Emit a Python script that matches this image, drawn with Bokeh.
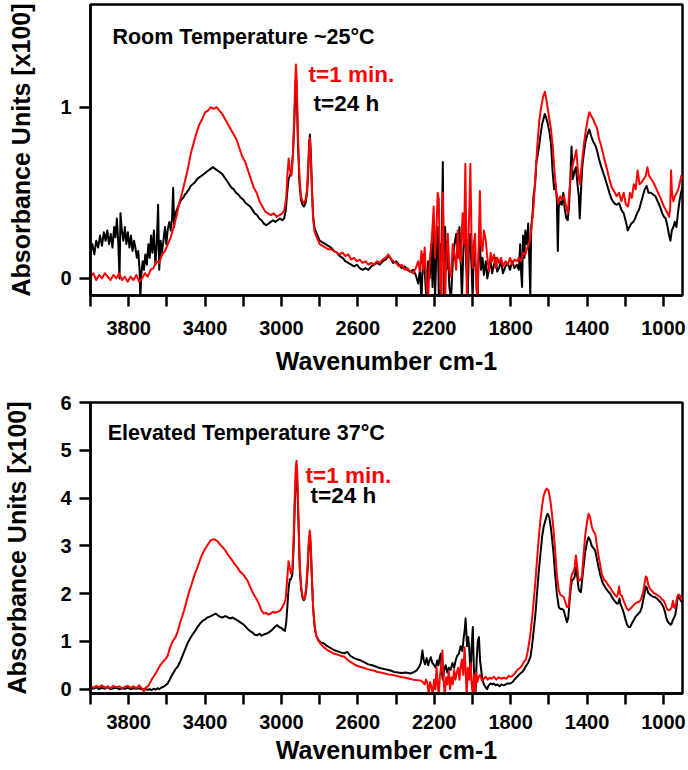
from bokeh.plotting import figure
from bokeh.layouts import column
from bokeh.models import Range1d, FixedTicker, Label
from bokeh.embed import file_html
from bokeh.resources import INLINE

# ---------------- data (wavenumber cm-1, absorbance x100) ----------------
X_MAJOR_TICKS = [3800, 3400, 3000, 2600, 2200, 1800, 1400, 1000]
X_MINOR_TICKS = [4000, 3600, 3200, 2800, 2400, 2000, 1600, 1200]
RT_Y_TICKS = [0, 1]
ET_Y_TICKS = [0, 1, 2, 3, 4, 5, 6]

X_LABEL = "Wavenumber cm-1"
Y_LABEL = "Absorbance Units [x100]"
RT_TITLE = "Room Temperature ~25°C"
ET_TITLE = "Elevated Temperature 37°C"
SERIES_NAMES = ["t=1 min.", "t=24 h"]

# Room temperature, t = 1 min (red)
RT_1MIN = [
    (4000, 0.01), (3985, 0.03), (3970, -0.01), (3955, 0.02), (3940, 0.0), (3925, 0.03), (3910, 0.01),
    (3895, -0.01), (3880, 0.02), (3865, 0.0), (3850, 0.03), (3835, -0.01), (3820, 0.01), (3805, -0.02),
    (3790, 0.01), (3775, -0.01), (3760, 0.02), (3745, -0.02), (3730, 0.0), (3715, 0.03), (3700, 0.01),
    (3685, 0.05), (3670, 0.06), (3655, 0.1), (3640, 0.09), (3625, 0.14), (3610, 0.16), (3595, 0.2),
    (3580, 0.24), (3565, 0.3), (3550, 0.36), (3535, 0.44), (3520, 0.5), (3505, 0.57), (3490, 0.64),
    (3475, 0.73), (3460, 0.79), (3445, 0.85), (3430, 0.9), (3415, 0.93), (3400, 0.97), (3385, 0.98),
    (3370, 1.0), (3355, 0.99), (3340, 1.0), (3325, 0.98), (3310, 0.96), (3295, 0.93), (3280, 0.9),
    (3265, 0.87), (3250, 0.84), (3235, 0.81), (3220, 0.76), (3205, 0.71), (3190, 0.68), (3175, 0.63),
    (3160, 0.58), (3145, 0.53), (3130, 0.5), (3115, 0.45), (3100, 0.42), (3085, 0.39), (3070, 0.38),
    (3055, 0.37), (3040, 0.38), (3025, 0.36), (3010, 0.37), (2995, 0.38), (2985, 0.4), (2975, 0.47),
    (2968, 0.62), (2962, 0.7), (2955, 0.63), (2948, 0.6), (2940, 0.72), (2933, 0.95), (2928, 1.15),
    (2924, 1.25), (2920, 1.15), (2914, 0.85), (2906, 0.6), (2898, 0.48), (2890, 0.45), (2882, 0.44),
    (2874, 0.46), (2866, 0.52), (2860, 0.65), (2855, 0.8), (2851, 0.82), (2846, 0.7), (2840, 0.5),
    (2834, 0.34), (2826, 0.27), (2815, 0.24), (2800, 0.2), (2785, 0.19), (2770, 0.18), (2755, 0.17),
    (2740, 0.17), (2725, 0.16), (2710, 0.15), (2695, 0.14), (2680, 0.15), (2665, 0.13), (2650, 0.14),
    (2635, 0.11), (2620, 0.12), (2605, 0.1), (2590, 0.11), (2575, 0.09), (2560, 0.1), (2545, 0.08),
    (2530, 0.09), (2515, 0.08), (2500, 0.1), (2485, 0.09), (2470, 0.11), (2455, 0.12), (2440, 0.14),
    (2430, 0.12), (2415, 0.1), (2400, 0.09), (2385, 0.07), (2370, 0.08), (2355, 0.05), (2340, 0.06),
    (2325, 0.04), (2310, 0.03), (2297, 0.06), (2284, 0.1), (2275, 0.04), (2267, 0.16), (2258, 0.05),
    (2250, 0.18), (2241, -0.03), (2232, -0.12), (2224, 0.1), (2215, 0.2), (2209, 0.3), (2203, 0.42),
    (2196, 0.12), (2189, 0.26), (2182, 0.5), (2176, 0.46), (2169, -0.05), (2163, -0.12), (2158, 0.3),
    (2155, 0.5), (2149, 0.1), (2143, -0.12), (2136, 0.15), (2129, 0.26), (2121, 0.05), (2112, 0.01),
    (2103, 0.2), (2094, 0.14), (2085, 0.05), (2077, 0.28), (2068, 0.12), (2060, 0.1), (2055, 0.3),
    (2051, 0.38), (2044, 0.2), (2037, 0.67), (2033, 0.3), (2029, -0.12), (2022, 0.2), (2015, 0.45),
    (2011, 0.67), (2005, 0.25), (1999, 0.06), (1992, 0.2), (1986, 0.26), (1980, -0.05), (1973, -0.12),
    (1967, 0.2), (1961, 0.51), (1955, 0.2), (1947, 0.16), (1940, 0.28), (1930, 0.22), (1922, 0.12),
    (1913, 0.04), (1905, 0.15), (1897, 0.1), (1887, 0.14), (1878, 0.06), (1870, 0.12), (1861, 0.09),
    (1850, 0.12), (1840, 0.07), (1827, 0.1), (1815, 0.08), (1803, 0.12), (1792, 0.08), (1780, 0.11),
    (1768, 0.1), (1757, 0.12), (1745, 0.1), (1735, 0.15), (1723, 0.14), (1712, 0.18), (1700, 0.22),
    (1690, 0.3), (1680, 0.42), (1670, 0.6), (1660, 0.78), (1650, 0.92), (1640, 1.0), (1630, 1.06),
    (1621, 1.09), (1612, 1.04), (1600, 0.95), (1590, 0.88), (1580, 0.78), (1570, 0.62), (1560, 0.5),
    (1550, 0.44), (1540, 0.48), (1530, 0.46), (1520, 0.48), (1510, 0.42), (1501, 0.38), (1493, 0.5),
    (1485, 0.6), (1476, 0.66), (1466, 0.7), (1456, 0.75), (1447, 0.62), (1438, 0.55), (1428, 0.66),
    (1418, 0.77), (1408, 0.85), (1398, 0.92), (1388, 0.97), (1378, 0.95), (1368, 0.93), (1358, 0.9),
    (1348, 0.88), (1338, 0.82), (1325, 0.77), (1310, 0.7), (1296, 0.64), (1283, 0.58), (1270, 0.53),
    (1258, 0.51), (1245, 0.48), (1232, 0.5), (1220, 0.45), (1208, 0.5), (1196, 0.43), (1185, 0.42),
    (1175, 0.5), (1165, 0.47), (1155, 0.55), (1145, 0.52), (1135, 0.63), (1125, 0.55), (1115, 0.56),
    (1103, 0.58), (1092, 0.6), (1084, 0.65), (1075, 0.6), (1064, 0.58), (1052, 0.56), (1040, 0.53),
    (1028, 0.5), (1015, 0.47), (1005, 0.44), (997, 0.42), (988, 0.4), (978, 0.38), (970, 0.36),
    (964, 0.42), (960, 0.63), (955, 0.5), (948, 0.45), (940, 0.48), (930, 0.5), (922, 0.52),
    (914, 0.56), (906, 0.6), (900, 0.58),
]

# Room temperature, t = 24 h (black)
RT_24H = [
    (4000, 0.15), (3990, 0.2), (3980, 0.14), (3970, 0.22), (3960, 0.18), (3950, 0.25), (3940, 0.19),
    (3930, 0.27), (3921, 0.22), (3912, 0.28), (3903, 0.2), (3894, 0.26), (3885, 0.18), (3876, 0.3),
    (3869, 0.24), (3862, 0.35), (3855, 0.22), (3848, 0.0), (3843, 0.38), (3836, 0.28), (3828, 0.22),
    (3820, 0.3), (3812, 0.2), (3804, 0.27), (3796, 0.18), (3788, 0.25), (3780, 0.16), (3772, 0.22),
    (3765, 0.18), (3757, 0.12), (3750, 0.16), (3743, 0.05), (3739, -0.12), (3734, 0.02), (3727, 0.1),
    (3720, 0.05), (3713, 0.14), (3705, 0.08), (3697, 0.2), (3690, 0.12), (3683, 0.25), (3676, 0.15),
    (3668, 0.28), (3660, 0.08), (3653, 0.2), (3646, 0.43), (3640, 0.05), (3633, 0.22), (3626, 0.15),
    (3618, 0.22), (3610, 0.3), (3603, 0.2), (3595, 0.29), (3587, 0.33), (3580, 0.28), (3573, 0.35),
    (3567, 0.53), (3562, 0.3), (3555, 0.38), (3548, 0.4), (3541, 0.42), (3533, 0.44), (3525, 0.46),
    (3515, 0.47), (3505, 0.49), (3497, 0.5), (3485, 0.52), (3475, 0.54), (3465, 0.55), (3454, 0.56),
    (3442, 0.58), (3430, 0.59), (3418, 0.6), (3406, 0.61), (3395, 0.62), (3383, 0.63), (3371, 0.64),
    (3359, 0.65), (3347, 0.64), (3335, 0.63), (3322, 0.62), (3310, 0.61), (3298, 0.59), (3286, 0.57),
    (3274, 0.55), (3262, 0.53), (3250, 0.52), (3238, 0.5), (3226, 0.49), (3212, 0.47), (3200, 0.46),
    (3188, 0.44), (3176, 0.43), (3164, 0.42), (3152, 0.4), (3140, 0.38), (3128, 0.37), (3116, 0.35),
    (3104, 0.34), (3092, 0.32), (3080, 0.31), (3068, 0.32), (3056, 0.33), (3044, 0.34), (3032, 0.33),
    (3020, 0.34), (3008, 0.35), (2996, 0.34), (2986, 0.35), (2977, 0.4), (2970, 0.5), (2963, 0.58),
    (2956, 0.6), (2948, 0.62), (2940, 0.72), (2933, 0.9), (2928, 1.08), (2924, 1.17), (2920, 1.08),
    (2914, 0.8), (2906, 0.56), (2898, 0.46), (2890, 0.43), (2882, 0.42), (2874, 0.44), (2866, 0.5),
    (2860, 0.62), (2855, 0.78), (2851, 0.84), (2846, 0.72), (2840, 0.52), (2834, 0.36), (2826, 0.29),
    (2815, 0.26), (2800, 0.22), (2785, 0.21), (2770, 0.2), (2755, 0.19), (2740, 0.18), (2725, 0.16),
    (2710, 0.15), (2695, 0.13), (2680, 0.12), (2665, 0.1), (2650, 0.09), (2635, 0.08), (2620, 0.07),
    (2605, 0.08), (2590, 0.06), (2575, 0.05), (2560, 0.06), (2545, 0.05), (2530, 0.07), (2515, 0.08),
    (2500, 0.09), (2485, 0.08), (2470, 0.1), (2455, 0.11), (2440, 0.13), (2430, 0.12), (2415, 0.09),
    (2400, 0.1), (2385, 0.08), (2370, 0.06), (2355, 0.07), (2340, 0.05), (2325, 0.04), (2310, 0.05),
    (2297, 0.02), (2284, -0.03), (2275, 0.05), (2267, -0.12), (2258, 0.14), (2250, 0.04), (2241, -0.12),
    (2232, 0.1), (2224, 0.0), (2215, 0.2), (2209, -0.05), (2203, 0.35), (2196, -0.12), (2189, 0.15),
    (2182, 0.3), (2176, -0.12), (2169, 0.2), (2162, 0.1), (2155, 0.68), (2150, -0.12), (2143, 0.3),
    (2136, 0.05), (2129, 0.22), (2121, -0.05), (2112, -0.12), (2103, 0.1), (2094, 0.2), (2085, 0.26),
    (2077, 0.12), (2068, 0.3), (2060, 0.05), (2055, -0.12), (2048, 0.15), (2040, 0.38), (2033, 0.1),
    (2025, -0.12), (2018, 0.2), (2011, 0.26), (2004, 0.05), (1999, -0.12), (1992, 0.22), (1986, 0.1),
    (1980, 0.04), (1973, -0.12), (1967, 0.15), (1961, 0.22), (1955, 0.05), (1947, 0.12), (1940, 0.02),
    (1930, 0.1), (1922, 0.0), (1913, 0.06), (1905, 0.1), (1897, 0.03), (1887, 0.08), (1878, 0.12),
    (1870, 0.04), (1861, 0.06), (1850, 0.1), (1840, 0.03), (1827, 0.07), (1815, 0.09), (1803, 0.05),
    (1792, 0.1), (1780, 0.06), (1768, 0.08), (1757, 0.05), (1750, 0.2), (1745, 0.03), (1740, -0.05),
    (1735, 0.25), (1728, 0.12), (1723, 0.28), (1715, 0.2), (1708, 0.32), (1702, 0.1), (1697, -0.1),
    (1692, 0.3), (1685, 0.38), (1680, 0.48), (1672, 0.55), (1665, 0.68), (1658, 0.72), (1650, 0.78),
    (1642, 0.85), (1635, 0.9), (1628, 0.93), (1621, 0.96), (1614, 0.94), (1605, 0.9), (1596, 0.85),
    (1588, 0.78), (1580, 0.62), (1572, 0.52), (1565, 0.55), (1558, 0.46), (1553, 0.16), (1548, 0.42),
    (1540, 0.45), (1532, 0.43), (1524, 0.5), (1516, 0.4), (1508, 0.35), (1501, 0.34), (1494, 0.42),
    (1487, 0.6), (1481, 0.77), (1475, 0.58), (1466, 0.62), (1458, 0.65), (1450, 0.55), (1443, 0.48),
    (1438, 0.35), (1432, 0.5), (1425, 0.65), (1418, 0.72), (1408, 0.8), (1398, 0.84), (1388, 0.87),
    (1378, 0.83), (1368, 0.8), (1358, 0.78), (1348, 0.75), (1338, 0.7), (1325, 0.65), (1310, 0.6),
    (1296, 0.55), (1283, 0.5), (1270, 0.46), (1258, 0.44), (1245, 0.43), (1232, 0.44), (1220, 0.4),
    (1208, 0.38), (1196, 0.33), (1187, 0.28), (1178, 0.3), (1168, 0.32), (1158, 0.33), (1148, 0.35),
    (1138, 0.38), (1128, 0.4), (1118, 0.44), (1108, 0.48), (1098, 0.52), (1088, 0.54), (1078, 0.5),
    (1066, 0.5), (1054, 0.49), (1042, 0.48), (1030, 0.45), (1018, 0.42), (1006, 0.38), (997, 0.36),
    (988, 0.35), (978, 0.3), (970, 0.25), (963, 0.22), (956, 0.28), (948, 0.3), (940, 0.33),
    (932, 0.3), (924, 0.38), (916, 0.45), (908, 0.5), (900, 0.53),
]

# Elevated temperature, t = 1 min (red)
ET_1MIN = [
    (4000, 0.06), (3985, 0.03), (3970, 0.07), (3955, 0.04), (3940, 0.08), (3925, 0.03), (3910, 0.06),
    (3895, 0.02), (3880, 0.07), (3865, 0.04), (3850, 0.06), (3835, 0.02), (3820, 0.05), (3805, 0.07),
    (3790, 0.03), (3775, 0.06), (3760, 0.02), (3745, 0.08), (3730, 0.01), (3720, -0.05), (3710, 0.04),
    (3700, 0.06), (3690, 0.12), (3680, 0.2), (3670, 0.26), (3660, 0.32), (3649, 0.4), (3635, 0.5),
    (3620, 0.58), (3605, 0.64), (3596, 0.7), (3585, 0.85), (3570, 1.0), (3556, 1.08), (3544, 1.2),
    (3530, 1.4), (3520, 1.52), (3510, 1.65), (3495, 1.87), (3485, 2.02), (3475, 2.14), (3460, 2.33),
    (3450, 2.45), (3440, 2.55), (3425, 2.72), (3415, 2.82), (3405, 2.9), (3390, 3.0), (3380, 3.06),
    (3370, 3.12), (3355, 3.14), (3345, 3.12), (3335, 3.1), (3320, 3.02), (3305, 2.96), (3290, 2.88),
    (3283, 2.83), (3270, 2.76), (3255, 2.68), (3245, 2.62), (3231, 2.55), (3215, 2.45), (3200, 2.4),
    (3190, 2.34), (3179, 2.28), (3165, 2.15), (3150, 2.02), (3140, 1.95), (3127, 1.86), (3115, 1.76),
    (3105, 1.65), (3092, 1.58), (3080, 1.6), (3070, 1.56), (3057, 1.58), (3045, 1.62), (3035, 1.6),
    (3020, 1.62), (3005, 1.65), (2995, 1.72), (2985, 1.8), (2978, 1.9), (2970, 2.3), (2963, 2.68),
    (2957, 2.55), (2950, 2.42), (2943, 2.5), (2936, 3.2), (2930, 4.1), (2925, 4.65), (2921, 4.78),
    (2917, 4.5), (2911, 3.6), (2904, 2.6), (2897, 2.15), (2890, 1.95), (2883, 1.88), (2877, 1.92),
    (2870, 2.15), (2863, 2.6), (2857, 3.1), (2852, 3.32), (2847, 3.1), (2841, 2.4), (2834, 1.7),
    (2826, 1.3), (2818, 1.12), (2808, 1.02), (2795, 0.95), (2779, 0.88), (2760, 0.82), (2742, 0.78),
    (2726, 0.74), (2710, 0.73), (2690, 0.7), (2671, 0.68), (2650, 0.6), (2630, 0.55), (2610, 0.5),
    (2590, 0.47), (2570, 0.45), (2550, 0.42), (2530, 0.4), (2510, 0.38), (2497, 0.36), (2480, 0.35),
    (2460, 0.33), (2440, 0.31), (2420, 0.3), (2410, 0.29), (2390, 0.27), (2370, 0.25), (2350, 0.24),
    (2330, 0.22), (2310, 0.2), (2290, 0.19), (2271, 0.18), (2260, 0.15), (2250, 0.1), (2243, 0.2),
    (2236, 0.12), (2229, -0.1), (2222, 0.15), (2215, 0.05), (2208, -0.12), (2201, 0.2), (2194, 0.0),
    (2188, 0.47), (2182, 0.1), (2176, -0.12), (2170, 0.3), (2163, 0.5), (2157, 0.81), (2151, 0.2),
    (2145, -0.12), (2138, 0.25), (2131, 0.1), (2124, 0.38), (2117, 0.0), (2110, 0.25), (2103, 0.1),
    (2096, 0.4), (2089, 0.2), (2082, 0.35), (2075, 0.45), (2068, 0.2), (2061, 0.5), (2055, 0.62),
    (2048, 0.3), (2041, 0.88), (2036, 0.4), (2030, -0.12), (2024, 0.45), (2017, 0.2), (2010, 0.55),
    (2004, 0.1), (1998, -0.12), (1992, 0.3), (1986, -0.05), (1980, 0.35), (1974, 0.15), (1968, 0.25),
    (1960, 0.3), (1950, 0.18), (1940, 0.22), (1930, 0.26), (1920, 0.2), (1910, 0.24), (1900, 0.22),
    (1888, 0.26), (1875, 0.2), (1862, 0.25), (1850, 0.22), (1836, 0.24), (1822, 0.22), (1810, 0.28),
    (1801, 0.26), (1790, 0.28), (1780, 0.32), (1766, 0.4), (1750, 0.45), (1740, 0.5), (1731, 0.57),
    (1720, 0.62), (1710, 0.8), (1696, 1.16), (1685, 1.6), (1678, 1.9), (1670, 2.27), (1660, 2.8),
    (1652, 3.2), (1644, 3.53), (1635, 3.85), (1627, 4.05), (1618, 4.15), (1610, 4.2), (1601, 4.15),
    (1592, 3.95), (1583, 3.65), (1575, 3.32), (1567, 2.9), (1558, 2.4), (1548, 2.07), (1540, 1.98),
    (1530, 1.95), (1522, 1.93), (1512, 1.8), (1505, 1.72), (1496, 1.72), (1490, 2.0), (1484, 2.3),
    (1479, 2.41), (1472, 2.45), (1465, 2.55), (1458, 2.8), (1451, 2.55), (1444, 2.27), (1436, 2.28),
    (1427, 2.34), (1418, 2.8), (1410, 3.2), (1400, 3.5), (1392, 3.67), (1384, 3.6), (1375, 3.4),
    (1366, 3.3), (1357, 3.25), (1348, 3.0), (1340, 2.8), (1331, 2.6), (1322, 2.41), (1312, 2.3),
    (1300, 2.25), (1290, 2.18), (1279, 2.13), (1268, 2.05), (1258, 2.0), (1250, 1.95), (1244, 1.93),
    (1238, 2.0), (1232, 2.15), (1226, 1.98), (1218, 1.96), (1208, 1.85), (1198, 1.75), (1190, 1.68),
    (1183, 1.65), (1175, 1.68), (1165, 1.72), (1155, 1.76), (1145, 1.8), (1138, 1.82), (1131, 1.82),
    (1122, 1.85), (1114, 1.92), (1105, 2.05), (1097, 2.25), (1092, 2.36), (1087, 2.34), (1080, 2.2),
    (1070, 2.1), (1060, 2.06), (1052, 2.02), (1044, 2.0), (1035, 1.98), (1025, 1.95), (1015, 1.92),
    (1008, 1.88), (1000, 1.86), (992, 1.8), (985, 1.72), (978, 1.66), (970, 1.65), (962, 1.68),
    (956, 1.72), (950, 1.85), (945, 1.72), (940, 1.7), (934, 1.8), (928, 1.92), (922, 1.98),
    (915, 1.97), (908, 1.9), (902, 1.86),
]

# Elevated temperature, t = 24 h (black)
ET_24H = [
    (4000, 0.03), (3985, 0.01), (3970, 0.04), (3955, 0.0), (3940, 0.03), (3925, 0.01), (3910, 0.04),
    (3895, 0.0), (3880, 0.02), (3865, 0.03), (3850, 0.0), (3835, 0.02), (3820, 0.01), (3805, 0.03),
    (3790, 0.0), (3775, 0.02), (3760, 0.01), (3745, 0.02), (3730, 0.0), (3715, 0.01), (3700, -0.01),
    (3690, 0.0), (3680, -0.02), (3670, 0.01), (3660, -0.01), (3649, 0.02), (3640, 0.0), (3630, 0.03),
    (3620, 0.05), (3610, 0.07), (3596, 0.12), (3585, 0.2), (3575, 0.28), (3565, 0.35), (3555, 0.42),
    (3544, 0.47), (3530, 0.58), (3520, 0.68), (3510, 0.78), (3492, 0.96), (3480, 1.05), (3465, 1.15),
    (3452, 1.22), (3440, 1.3), (3425, 1.38), (3410, 1.44), (3400, 1.46), (3388, 1.5), (3375, 1.52),
    (3360, 1.55), (3345, 1.58), (3337, 1.56), (3325, 1.52), (3310, 1.5), (3295, 1.53), (3283, 1.51),
    (3270, 1.48), (3255, 1.5), (3245, 1.47), (3231, 1.44), (3215, 1.4), (3200, 1.36), (3190, 1.32),
    (3179, 1.27), (3165, 1.22), (3150, 1.18), (3140, 1.14), (3127, 1.13), (3115, 1.16), (3105, 1.12),
    (3090, 1.15), (3074, 1.17), (3062, 1.2), (3050, 1.24), (3040, 1.28), (3030, 1.32), (3022, 1.34),
    (3012, 1.3), (3000, 1.28), (2990, 1.24), (2982, 1.22), (2975, 1.4), (2968, 1.8), (2962, 2.14),
    (2956, 2.3), (2950, 2.3), (2943, 2.4), (2936, 3.0), (2930, 3.9), (2925, 4.4), (2921, 4.5),
    (2917, 4.3), (2911, 3.5), (2904, 2.5), (2897, 2.1), (2890, 1.92), (2883, 1.86), (2877, 1.9),
    (2870, 2.1), (2863, 2.5), (2857, 3.0), (2852, 3.2), (2847, 3.0), (2841, 2.35), (2834, 1.68),
    (2826, 1.3), (2818, 1.12), (2808, 1.04), (2795, 0.98), (2779, 0.96), (2760, 0.9), (2742, 0.86),
    (2726, 0.82), (2710, 0.8), (2690, 0.77), (2671, 0.75), (2655, 0.78), (2640, 0.7), (2620, 0.65),
    (2600, 0.62), (2584, 0.6), (2565, 0.56), (2545, 0.52), (2525, 0.5), (2510, 0.48), (2497, 0.46),
    (2480, 0.44), (2460, 0.42), (2440, 0.4), (2420, 0.38), (2410, 0.36), (2390, 0.35), (2370, 0.34),
    (2350, 0.35), (2323, 0.33), (2305, 0.36), (2290, 0.4), (2279, 0.47), (2270, 0.55), (2262, 0.81),
    (2255, 0.6), (2248, 0.52), (2240, 0.65), (2232, 0.5), (2225, 0.6), (2218, 0.67), (2210, 0.55),
    (2200, 0.5), (2192, 0.45), (2185, 0.6), (2178, 0.5), (2172, 0.65), (2166, 0.74), (2160, 0.35),
    (2155, 0.2), (2148, 0.4), (2140, 0.5), (2132, 0.35), (2124, 0.45), (2114, 0.4), (2105, 0.55),
    (2096, 0.45), (2088, 0.6), (2080, 0.7), (2071, 0.74), (2062, 0.9), (2053, 0.8), (2045, 1.1),
    (2040, 1.25), (2036, 1.48), (2032, 1.2), (2028, 0.9), (2022, 1.09), (2016, 0.8), (2010, 0.3),
    (2004, 0.9), (1998, 1.3), (1993, 0.5), (1988, 0.0), (1984, -0.1), (1978, 0.6), (1972, 1.0),
    (1966, 1.09), (1960, 0.6), (1954, 0.4), (1948, 0.2), (1940, 0.1), (1932, 0.05), (1923, 0.0),
    (1915, 0.08), (1905, 0.12), (1895, 0.1), (1888, 0.12), (1878, 0.08), (1868, 0.1), (1858, 0.06),
    (1848, 0.1), (1836, 0.08), (1825, 0.1), (1815, 0.12), (1801, 0.12), (1790, 0.15), (1780, 0.2),
    (1766, 0.26), (1752, 0.32), (1740, 0.36), (1731, 0.4), (1720, 0.48), (1708, 0.56), (1696, 0.68),
    (1688, 0.9), (1680, 1.2), (1670, 1.58), (1660, 2.1), (1652, 2.5), (1644, 2.83), (1635, 3.2),
    (1627, 3.4), (1618, 3.53), (1610, 3.64), (1606, 3.67), (1598, 3.6), (1590, 3.4), (1583, 3.15),
    (1575, 2.83), (1567, 2.4), (1558, 2.0), (1548, 1.72), (1540, 1.68), (1530, 1.68), (1522, 1.65),
    (1512, 1.5), (1505, 1.4), (1498, 1.5), (1490, 1.9), (1484, 2.15), (1479, 2.27), (1472, 2.3),
    (1465, 2.35), (1458, 2.55), (1451, 2.35), (1444, 2.1), (1438, 2.05), (1432, 2.03), (1420, 2.5),
    (1410, 2.85), (1400, 3.08), (1392, 3.18), (1384, 3.12), (1375, 3.0), (1366, 2.95), (1357, 2.9),
    (1348, 2.72), (1340, 2.56), (1331, 2.4), (1322, 2.27), (1312, 2.18), (1300, 2.1), (1290, 2.05),
    (1279, 2.0), (1268, 1.92), (1258, 1.86), (1250, 1.82), (1244, 1.79), (1236, 1.8), (1230, 1.9),
    (1225, 1.78), (1218, 1.72), (1208, 1.6), (1198, 1.45), (1190, 1.35), (1182, 1.3), (1174, 1.3),
    (1165, 1.38), (1155, 1.45), (1145, 1.52), (1138, 1.55), (1131, 1.58), (1122, 1.62), (1114, 1.7),
    (1105, 1.88), (1097, 2.05), (1092, 2.15), (1087, 2.13), (1080, 2.02), (1070, 1.98), (1060, 1.95),
    (1052, 1.93), (1044, 1.93), (1035, 1.9), (1025, 1.86), (1015, 1.82), (1008, 1.78), (1000, 1.72),
    (992, 1.62), (985, 1.5), (978, 1.42), (970, 1.38), (962, 1.35), (957, 1.37), (950, 1.45),
    (944, 1.5), (938, 1.55), (932, 1.7), (926, 1.9), (922, 1.93), (915, 1.9), (908, 1.85),
    (902, 1.82),
]

# ---------------- styling ----------------
FONT = "Liberation Sans"
RED = "#ff0000"
BLACK = "#000000"


def make_panel(height, border_left, border_right, border_top, border_bottom, y_range, y_ticks,
               ylabel_standoff, xlabel_standoff, xtick_standoff):
    p = figure(width=688, height=height, output_backend="svg", toolbar_location=None,
               x_range=Range1d(4000, 900), y_range=Range1d(*y_range),
               min_border_left=border_left, min_border_right=border_right,
               min_border_top=border_top, min_border_bottom=border_bottom)
    p.grid.visible = False
    p.background_fill_color = "white"
    p.border_fill_color = "white"
    p.outline_line_color = BLACK
    p.outline_line_width = 2.5
    p.outline_line_alpha = 1.0

    p.xaxis.ticker = FixedTicker(ticks=X_MAJOR_TICKS, minor_ticks=X_MINOR_TICKS)
    p.yaxis.ticker = FixedTicker(ticks=y_ticks, minor_ticks=[])
    for ax in (p.xaxis, p.yaxis):
        ax.axis_line_width = 2.5
        ax.axis_line_color = BLACK
        ax.major_tick_line_width = 2.5
        ax.minor_tick_line_width = 2.5
        ax.major_tick_line_color = BLACK
        ax.minor_tick_line_color = BLACK
        ax.major_tick_in = 0
        ax.minor_tick_in = 0
        ax.major_tick_out = 11
        ax.minor_tick_out = 11
        ax.major_label_text_font = FONT
        ax.major_label_text_font_style = "bold"
        ax.major_label_text_font_size = "20px"
        ax.major_label_text_color = BLACK
        ax.axis_label_text_font = FONT
        ax.axis_label_text_font_style = "bold"
        ax.axis_label_text_font_size = "25px"
        ax.axis_label_text_color = BLACK
    p.yaxis.minor_tick_line_color = None
    p.yaxis.major_label_standoff = 8
    p.xaxis.major_label_standoff = xtick_standoff
    p.xaxis.axis_label = X_LABEL
    p.yaxis.axis_label = Y_LABEL
    p.yaxis.axis_label_standoff = ylabel_standoff
    p.xaxis.axis_label_standoff = xlabel_standoff
    return p


def add_series(p, pairs, color):
    xs = [a for a, _ in pairs]
    ys = [b for _, b in pairs]
    p.line(xs, ys, line_color=color, line_width=2, line_join="round")


def add_text(p, x, y, text, color, size):
    p.add_layout(Label(x=x, y=y, text=text, text_font=FONT, text_font_style="bold",
                       text_font_size=size, text_color=color, text_align="left",
                       text_baseline="alphabetic"))


# Top panel: room temperature
p1 = make_panel(385, 86, 6, 4, 90, (-0.1, 1.6), RT_Y_TICKS, 22, 9, 14)
add_series(p1, RT_24H, BLACK)
add_series(p1, RT_1MIN, RED)
add_text(p1, 3885, 1.41, RT_TITLE, BLACK, "21.5px")
add_text(p1, 2858, 1.19, SERIES_NAMES[0], RED, "22.5px")
add_text(p1, 2832, 1.02, SERIES_NAMES[1], BLACK, "22.5px")

# Bottom panel: elevated temperature
p2 = make_panel(385, 90, 5, 17, 77, (-0.09, 6.0), ET_Y_TICKS, 26, 4, 10)
add_series(p2, ET_24H, BLACK)
add_series(p2, ET_1MIN, RED)
add_text(p2, 3910, 5.37, ET_TITLE, BLACK, "21.5px")
add_text(p2, 2874, 4.47, SERIES_NAMES[0], RED, "22.5px")
add_text(p2, 2848, 4.05, SERIES_NAMES[1], BLACK, "22.5px")

layout = column(p1, p2, spacing=0)
open("out.html", "w").write(file_html(layout, INLINE))
